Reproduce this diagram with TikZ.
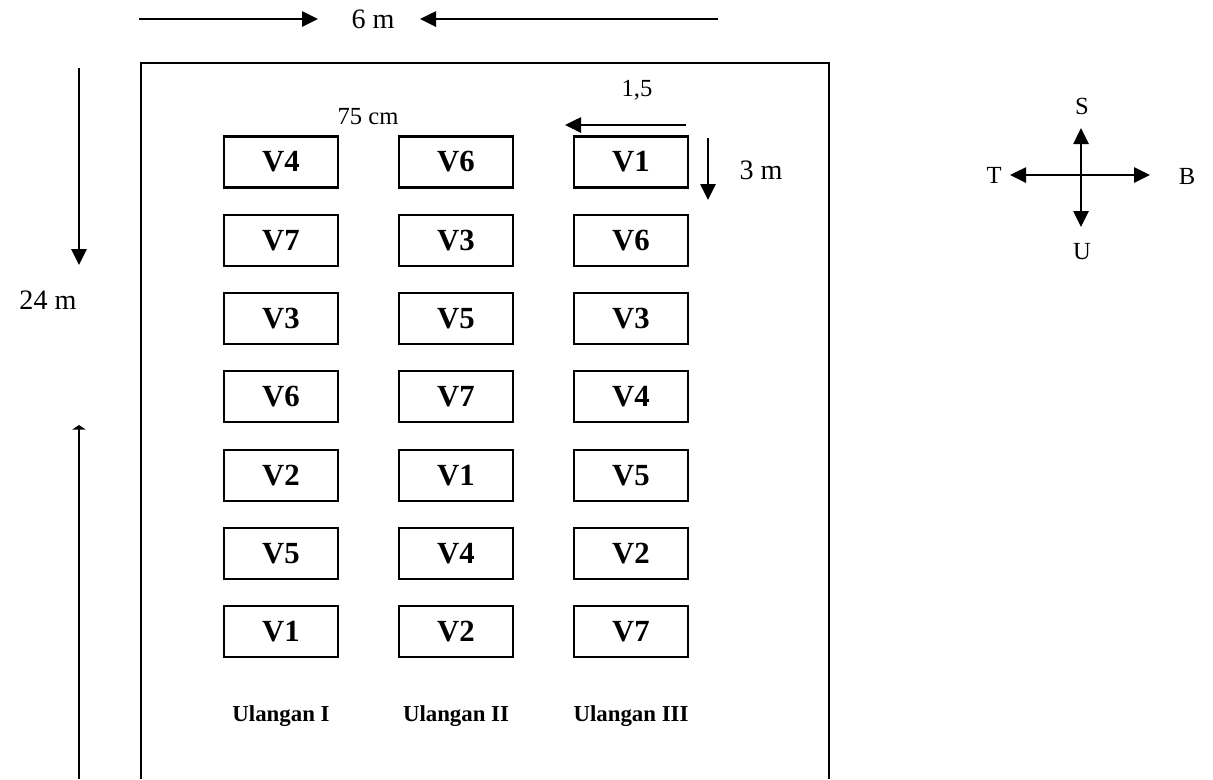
\documentclass[tikz,border=0pt]{standalone}
\usepackage{fontspec}
\setmainfont{Liberation Serif}
\usetikzlibrary{arrows.meta}

\tikzset{
  plotbox/.style={draw, line width=1.2pt, minimum width=2.28cm, minimum height=1.02cm,
    inner sep=0pt, font=\fontsize{17.5}{20}\selectfont\bfseries},
  tip/.style={Triangle[length=3.2mm,width=3mm]},
  dimarrow/.style={line width=1.5pt, -{Triangle[length=3.2mm,width=3mm]}},
  twoway/.style={line width=1.5pt, {Triangle[length=3.2mm,width=3mm]}-{Triangle[length=3.2mm,width=3mm]}},
  lbl/.style={font=\fontsize{16}{19}\selectfont},
  smalllbl/.style={font=\fontsize{14}{17}\selectfont},
  replbl/.style={font=\fontsize{13}{15}\selectfont\bfseries}
}

\begin{document}
\begin{tikzpicture}[x=0.02cm,y=-0.02cm]
    \useasboundingbox (0,0) rectangle (1213,779);

    % Lahan (batas luar)
    \draw[line width=1.3pt] (141,779) -- (141,63) -- (829,63) -- (829,779);

    % Ukuran lebar lahan
    \coordinate (wl) at (139,19);
    \coordinate (wr) at (718,19);
    \node[lbl] (wlab) at (373,19) {6 m};
    \draw[dimarrow] (wl) -- (318,19);
    \draw[dimarrow] (wr) -- (420,19);

    % Ukuran panjang lahan
    \coordinate (ht) at (79,68);
    \coordinate (hb) at (79,779);
    \node[lbl] (hlab) at (48,300) {24 m};
    \draw[dimarrow] (ht) -- (79,265);
    \draw[line width=1.5pt, -{Triangle[length=0.9mm,width=2.6mm]}] (hb) -- (79,425);

    % Petak perlakuan
    \foreach \v [count=\r] in {V4,V7,V3,V6,V2,V5,V1}
        \node[plotbox] (a\r) at (281,{162+78.3*(\r-1)}) {\v};
    \foreach \v [count=\r] in {V6,V3,V5,V7,V1,V4,V2}
        \node[plotbox] (b\r) at (456,{162+78.3*(\r-1)}) {\v};
    \foreach \v [count=\r] in {V1,V6,V3,V4,V5,V2,V7}
        \node[plotbox] (c\r) at (631,{162+78.3*(\r-1)}) {\v};

    % Ulangan
    \node[replbl] (u1) at (281,716) {Ulangan I};
    \node[replbl] (u2) at (456,716) {Ulangan II};
    \node[replbl] (u3) at (631,716) {Ulangan III};

    % Jarak antar petak
    \node[smalllbl] (jarak) at (368,117) {75 cm};
    \node[smalllbl] (lebar) at (637,90) {1,5};
    \coordinate (lr) at (686,125);
    \coordinate (ll) at (565,125);
    \draw[dimarrow] (lr) -- (ll);
    \coordinate (pt) at (708,138);
    \coordinate (pb) at (708,200);
    \draw[dimarrow] (pt) -- (pb);
    \node[lbl] (panjang) at (761,170) {3 m};

    % Arah mata angin
    \draw[twoway] (1010,175) -- (1150,175);
    \draw[twoway] (1081,128) -- (1081,227);
    \node[smalllbl] (s) at (1082,106) {S};
    \node[smalllbl] (u) at (1082,252) {U};
    \node[smalllbl] (t) at (994,175) {T};
    \node[smalllbl] (b) at (1187,176) {B};
\end{tikzpicture}
\end{document}
